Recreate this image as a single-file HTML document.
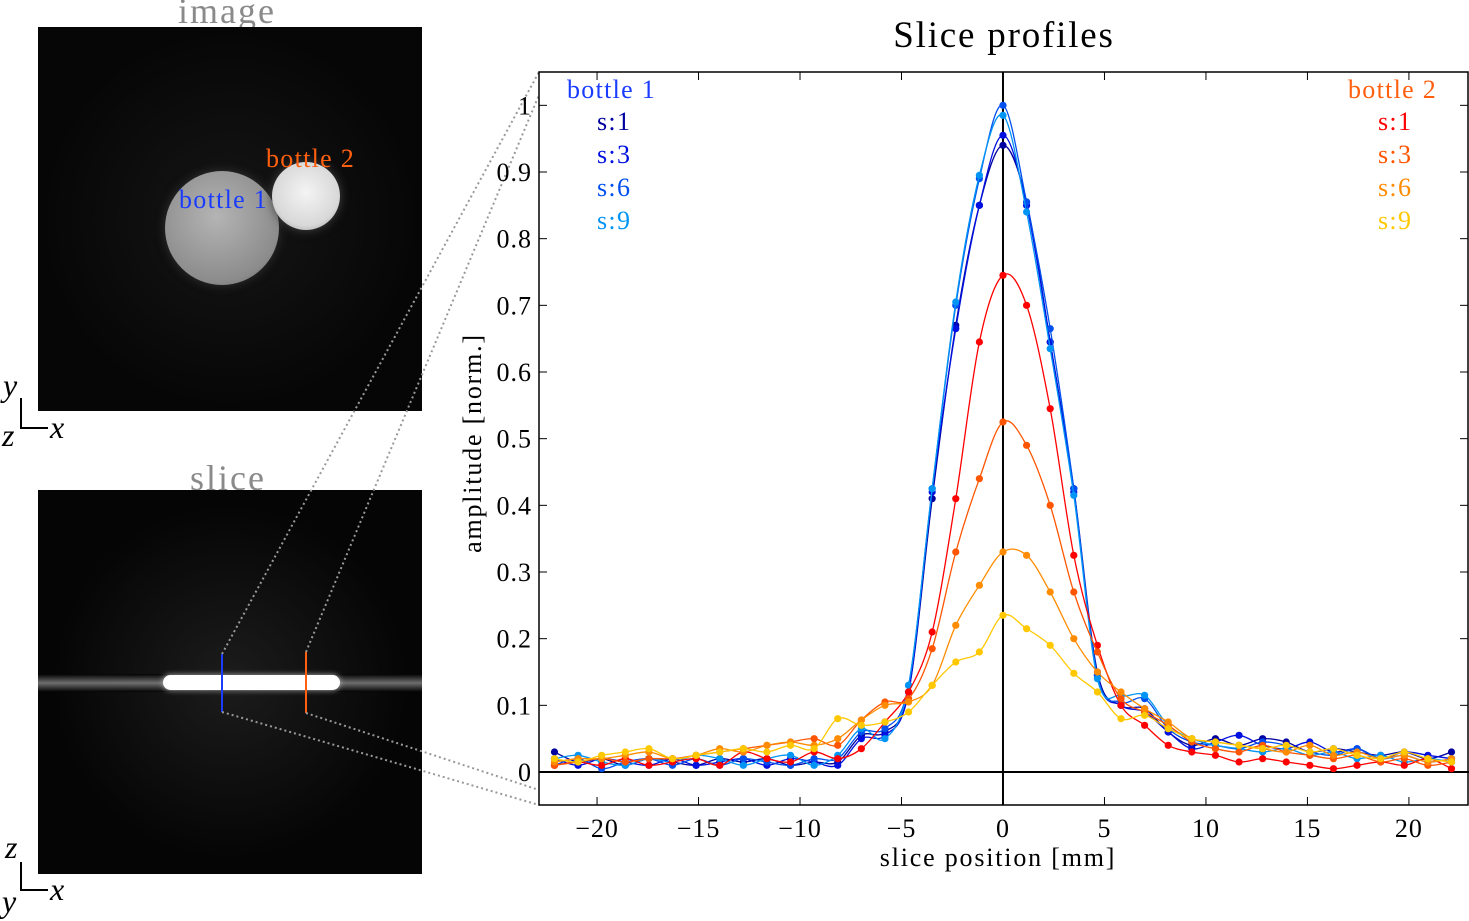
<!DOCTYPE html>
<html><head><meta charset="utf-8">
<style>
html,body{margin:0;padding:0;background:#fff;}
body{width:1469px;height:921px;position:relative;overflow:hidden;font-family:"Liberation Serif",serif;}
.panel{position:absolute;background:#000;overflow:hidden;}
.lbl{position:absolute;font-size:36px;color:#8a8a8a;letter-spacing:2px;}
</style></head><body>
<div class="lbl" style="left:178px;top:-10px;">image</div>
<div class="panel" style="left:38px;top:27px;width:384px;height:384px;background:radial-gradient(circle at 50% 50%,#161616,#060606 70%);">
  <div style="position:absolute;left:127px;top:144px;width:114px;height:114px;border-radius:50%;background:radial-gradient(circle at 45% 40%,#b4b4b4,#8c8c8c 70%,#5a5a5a);box-shadow:0 0 10px #333;"></div>
  <div style="position:absolute;left:234px;top:135px;width:68px;height:68px;border-radius:50%;background:radial-gradient(circle at 50% 45%,#f4f4f4,#d8d8d8 65%,#888);box-shadow:0 0 10px #444;"></div>
  <div style="position:absolute;left:141px;top:158px;font-size:26px;letter-spacing:1.3px;color:#1a3cff;">bottle 1</div>
  <div style="position:absolute;left:228px;top:117px;font-size:26px;letter-spacing:1.3px;color:#ff6010;">bottle 2</div>
</div>
<div class="lbl" style="left:190px;top:457px;">slice</div>
<div class="panel" style="left:38px;top:490px;width:384px;height:384px;background:radial-gradient(ellipse at 50% 50%,#1c1c1c,#050505 65%);">
  <div style="position:absolute;left:0;top:184px;width:384px;height:18px;background:linear-gradient(#000,#808080 50%,#000);opacity:.85;"></div>
  <div style="position:absolute;left:125px;top:185px;width:177px;height:15px;border-radius:8px;background:#fff;box-shadow:0 0 6px #bbb;"></div>
  <div style="position:absolute;left:183px;top:164px;width:2px;height:58px;background:#1a3cff;"></div>
  <div style="position:absolute;left:267px;top:162px;width:2px;height:61px;background:#ff6010;"></div>
</div>
<svg style="position:absolute;left:0;top:0" width="1469" height="921">
  <g font-family="Liberation Serif,serif" font-style="italic" font-size="32" fill="#000">
    <text x="3" y="396">y</text><text x="2" y="446">z</text><text x="50" y="438">x</text>
    <text x="5" y="858">z</text><text x="2" y="912">y</text><text x="50" y="900">x</text>
  </g>
  <path d="M21 398V428H48M21 862V890H48" stroke="#000" stroke-width="2" fill="none"/>
  <g stroke="#999" stroke-width="2" stroke-dasharray="2,3" fill="none">
    <line x1="222" y1="654" x2="539" y2="72"/>
    <line x1="306" y1="652" x2="539" y2="95"/>
    <line x1="222" y1="712" x2="539" y2="805"/>
    <line x1="306" y1="713" x2="539" y2="790"/>
  </g>
</svg>
<svg id="chart" style="position:absolute;left:0;top:0" width="1469" height="921"></svg>
<script>
const sampleIndex=[-19,-18,-17,-16,-15,-14,-13,-12,-11,-10,-9,-8,-7,-6,-5,-4,-3,-2,-1,0,1,2,3,4,5,6,7,8,9,10,11,12,13,14,15,16,17,18,19];
const sampleStepMm=1.163;
const xTicks=[-20,-15,-10,-5,0,5,10,15,20];
const xTickLabels=["\u221220","\u221215","\u221210","\u22125","0","5","10","15","20"];
const yTicks=[0,0.1,0.2,0.3,0.4,0.5,0.6,0.7,0.8,0.9,1];
const yTickLabels=["0","0.1","0.2","0.3","0.4","0.5","0.6","0.7","0.8","0.9","1"];
const b1s1=[0.03,0.015,0.02,0.01,0.02,0.015,0.01,0.02,0.015,0.02,0.01,0.015,0.015,0.055,0.06,0.12,0.41,0.67,0.85,0.94,0.855,0.645,0.425,0.15,0.1,0.095,0.06,0.04,0.05,0.04,0.05,0.045,0.03,0.035,0.03,0.025,0.03,0.02,0.03];
const b1s3=[0.02,0.01,0.02,0.015,0.01,0.02,0.01,0.015,0.02,0.01,0.02,0.015,0.01,0.05,0.055,0.12,0.42,0.665,0.85,0.955,0.85,0.645,0.42,0.145,0.1,0.09,0.06,0.035,0.045,0.055,0.04,0.035,0.045,0.03,0.035,0.02,0.03,0.025,0.02];
const b1s6=[0.01,0.02,0.005,0.015,0.02,0.01,0.02,0.01,0.02,0.015,0.01,0.02,0.02,0.06,0.065,0.13,0.425,0.70,0.89,1.0,0.855,0.665,0.425,0.145,0.105,0.11,0.065,0.045,0.04,0.035,0.045,0.04,0.03,0.025,0.035,0.02,0.025,0.015,0.02];
const b1s9=[0.02,0.025,0.015,0.01,0.02,0.015,0.025,0.02,0.01,0.02,0.025,0.01,0.025,0.065,0.05,0.13,0.425,0.705,0.895,0.985,0.84,0.635,0.415,0.14,0.115,0.115,0.07,0.05,0.04,0.035,0.03,0.035,0.025,0.03,0.02,0.025,0.015,0.02,0.015];
const b2s1=[0.01,0.015,0.01,0.02,0.01,0.015,0.02,0.01,0.03,0.02,0.015,0.03,0.02,0.035,0.075,0.12,0.21,0.41,0.645,0.745,0.70,0.545,0.325,0.19,0.1,0.07,0.04,0.03,0.025,0.015,0.02,0.015,0.01,0.005,0.01,0.015,0.01,0.02,0.005];
const b2s3=[0.01,0.015,0.02,0.015,0.02,0.02,0.025,0.03,0.035,0.04,0.045,0.05,0.04,0.078,0.105,0.11,0.185,0.33,0.44,0.525,0.49,0.40,0.27,0.18,0.11,0.09,0.07,0.045,0.035,0.03,0.04,0.03,0.025,0.02,0.025,0.015,0.02,0.01,0.015];
const b2s6=[0.015,0.02,0.02,0.025,0.03,0.02,0.025,0.035,0.03,0.04,0.045,0.04,0.05,0.078,0.10,0.105,0.13,0.22,0.28,0.33,0.325,0.27,0.20,0.15,0.12,0.095,0.075,0.05,0.045,0.04,0.035,0.03,0.04,0.025,0.03,0.02,0.025,0.015,0.02];
const b2s9=[0.02,0.015,0.025,0.03,0.035,0.02,0.025,0.03,0.035,0.03,0.04,0.035,0.08,0.07,0.075,0.09,0.13,0.165,0.18,0.235,0.215,0.19,0.148,0.12,0.08,0.085,0.065,0.05,0.045,0.04,0.035,0.04,0.03,0.035,0.025,0.02,0.03,0.02,0.015];
const seriesNames=["b1-s1","b1-s3","b1-s6","b1-s9","b2-s1","b2-s3","b2-s6","b2-s9"];
const seriesColors=["#0000a0","#0010e0","#0050f0","#0095f5","#ff0000","#ff5500","#ff8c00","#ffc800"];
const seriesData=[b1s1,b1s3,b1s6,b1s9,b2s1,b2s3,b2s6,b2s9];

const NS="http://www.w3.org/2000/svg";
const svg=document.getElementById('chart');
const L=539,R=1469,T=72,B=805;
const xMin=-22.86,xMax=22.96,yMin=-0.0495,yMax=1.05;
const sx=v=>L+(v-xMin)/(xMax-xMin)*(R-L);
const sy=v=>B-(v-yMin)/(yMax-yMin)*(B-T);
const FF='Liberation Serif,serif';
function mk(tag,attrs){const e=document.createElementNS(NS,tag);for(const k in attrs)e.setAttribute(k,attrs[k]);svg.appendChild(e);return e;}
let e;
e=mk('rect',{x:L,y:T,width:R-L-1,height:B-T,fill:'none',stroke:'#000','stroke-width':1.5});


e=mk('line',{x1:L,x2:R,y1:sy(0),y2:sy(0),stroke:'#000','stroke-width':2});


e=mk('line',{x1:sx(0),x2:sx(0),y1:T,y2:B,stroke:'#000','stroke-width':2});


xTicks.forEach((t,i)=>{
  mk('line',{x1:sx(t),x2:sx(t),y1:B,y2:B-8,stroke:'#000','stroke-width':1});
  mk('line',{x1:sx(t),x2:sx(t),y1:T,y2:T+8,stroke:'#000','stroke-width':1});
  const tx=mk('text',{x:sx(t),y:B+32,'text-anchor':'middle','font-size':26,'letter-spacing':1,'font-family':FF});
  tx.textContent=xTickLabels[i];
  
  
});
yTicks.forEach((t,i)=>{
  mk('line',{x1:L,x2:L+8,y1:sy(t),y2:sy(t),stroke:'#000','stroke-width':1});
  mk('line',{x1:R-9,x2:R-1,y1:sy(t),y2:sy(t),stroke:'#000','stroke-width':1});
  const tx=mk('text',{x:L-7,y:sy(t)+9,'text-anchor':'end','font-size':26,'letter-spacing':1,'font-family':FF});
  tx.textContent=yTickLabels[i];
  
  
});
e=mk('text',{x:1004,y:47,'text-anchor':'middle','font-size':37,'letter-spacing':1.8,'font-family':FF});e.textContent='Slice profiles';


e=mk('text',{x:998,y:866,'text-anchor':'middle','font-size':26,'letter-spacing':1.8,'font-family':FF});e.textContent='slice position [mm]';


e=mk('text',{x:0,y:0,'text-anchor':'middle','font-size':26,'letter-spacing':1.8,'font-family':FF,transform:'translate(481,443) rotate(-90)'});e.textContent='amplitude [norm.]';



function spline(pts){let d='M'+pts[0][0].toFixed(1)+' '+pts[0][1].toFixed(1);
  for(let i=0;i<pts.length-1;i++){const p0=pts[Math.max(0,i-1)],p1=pts[i],p2=pts[i+1],p3=pts[Math.min(pts.length-1,i+2)];
    const c1=[p1[0]+(p2[0]-p0[0])/6,p1[1]+(p2[1]-p0[1])/6],c2=[p2[0]-(p3[0]-p1[0])/6,p2[1]-(p3[1]-p1[1])/6];
    d+=' C'+c1.map(v=>v.toFixed(1)).join(' ')+' '+c2.map(v=>v.toFixed(1)).join(' ')+' '+p2[0].toFixed(1)+' '+p2[1].toFixed(1);}
  return d;}
seriesData.forEach((vals,s)=>{
  const pts=vals.map((v,i)=>[sx(sampleIndex[i]*sampleStepMm),sy(v)]);
  const p=mk('path',{d:spline(pts),fill:'none',stroke:seriesColors[s],'stroke-width':1.3});
  
  
  pts.forEach(q=>{const c=mk('circle',{cx:q[0],cy:q[1],r:3.6,fill:seriesColors[s]});
    
    });
});
const legL=[["bottle 1","#1a3cff",567,98],["s:1","#0000a0",597,130],["s:3","#0010e0",597,163],["s:6","#0050f0",597,196],["s:9","#0095f5",597,229]];
const legR=[["bottle 2","#ff6010",1348,98],["s:1","#ff0000",1378,130],["s:3","#ff5500",1378,163],["s:6","#ff8c00",1378,196],["s:9","#ffc800",1378,229]];
legL.concat(legR).forEach(l=>{const t=mk('text',{x:l[2],y:l[3],fill:l[1],'font-size':26,'letter-spacing':1.3,'font-family':FF});t.textContent=l[0];
  
  });
</script>
</body></html>
